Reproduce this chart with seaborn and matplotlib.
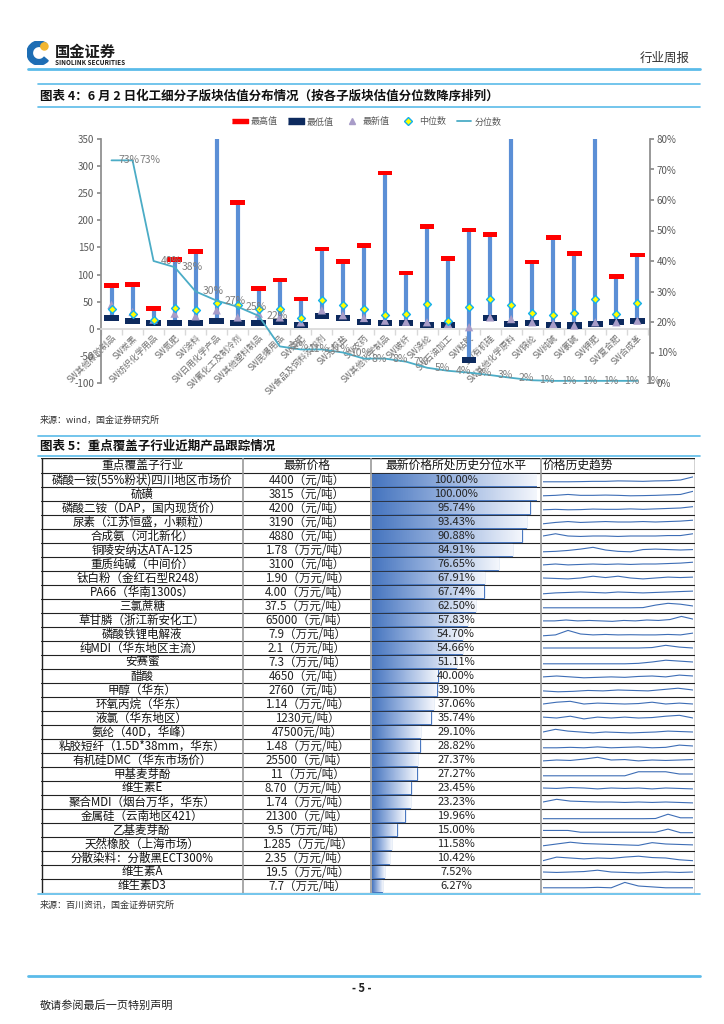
import numpy as np
import pandas as pd
import seaborn as sns
import matplotlib.pyplot as plt
from matplotlib.lines import Line2D
from matplotlib.markers import MarkerStyle
from matplotlib.patches import Wedge, Circle
from matplotlib.colors import LinearSegmentedColormap

# ---------------- data: figure 4 ----------------
sectors = ['SW其他橡胶制品', 'SW炭黑', 'SW纺织化学用品', 'SW氮肥', 'SW涂料', 'SW日用化学产品',
           'SW氟化工及制冷剂', 'SW其他塑料制品', 'SW民爆用品', 'SW磷肥', 'SW食品及饲料添加剂',
           'SW无机盐', 'SW农药', 'SW其他化学制品', 'SW玻纤', 'SW涤纶', 'SW石油加工', 'SW粘胶',
           'SW有机硅', 'SW其他化学原料', 'SW锦纶', 'SW纯碱', 'SW氯碱', 'SW钾肥', 'SW复合肥', 'SW合成革']
val_high = [80, 82, 37, 128, 143, 420, 233, 74, 90, 55, 147, 124, 153, 287, 103, 189,
            130, 182, 174, 460, 123, 168, 139, 440, 97, 136]
val_low = [20, 14, 10, 10, 10, 15, 11, 11, 12, 7, 23, 20, 13, 10, 11, 7,
           7, -58, 20, 9, 10, 7, 6, 9, 12, 14]
val_median = [37, 27, 17, 39, 34, 47, 44, 36, 37, 19, 53, 44, 36, 26, 28, 45,
              14, 40, 54, 43, 30, 26, 30, 54, 27, 47]
val_latest = [44, 31, 17, 28, 23, 34, 21, 28, 21, 12, 34, 25, 20, 15, 13, 12,
              9, 3, 21, 18, 12, 9, 6, 12, 12, 15]
pct_rank = [0.73, 0.73, 0.40, 0.38, 0.30, 0.27, 0.25, 0.22, 0.12, 0.11, 0.11, 0.10, 0.08,
            0.08, 0.07, 0.05, 0.04, 0.034, 0.026, 0.017, 0.009, 0.007, 0.007, 0.007, 0.007, 0.007]

# ---------------- data: figure 5 ----------------
products = ['磷酸一铵(55%粉状)四川地区市场价', '硫磺', '磷酸二铵（DAP，国内现货价）', '尿素（江苏恒盛，小颗粒）',
            '合成氨（河北新化）', '铜陵安纳达ATA-125', '重质纯碱（中间价）', '钛白粉（金红石型R248）',
            'PA66（华南1300s）', '三氯蔗糖', '草甘膦（浙江新安化工）', '磷酸铁锂电解液', '纯MDI（华东地区主流）',
            '安赛蜜', '醋酸', '甲醇（华东）', '环氧丙烷（华东）', '液氯（华东地区）', '氨纶（40D，华峰）',
            '粘胶短纤（1.5D*38mm，华东）', '有机硅DMC（华东市场价）', '甲基麦芽酚', '维生素E',
            '聚合MDI（烟台万华，华东）', '金属硅（云南地区421）', '乙基麦芽酚', '天然橡胶（上海市场）',
            '分散染料：分散黑ECT300%', '维生素A', '维生素D3']
prices = ['4400（元/吨）', '3815（元/吨）', '4200（元/吨）', '3190（元/吨）', '4880（元/吨）',
          '1.78（万元/吨）', '3100（元/吨）', '1.90（万元/吨）', '4.00（万元/吨）', '37.5（万元/吨）',
          '65000（元/吨）', '7.9（万元/吨）', '2.1（万元/吨）', '7.3（万元/吨）', '4650（元/吨）',
          '2760（元/吨）', '1.14（万元/吨）', '1230元/吨）', '47500元/吨）', '1.48（万元/吨）',
          '25500（元/吨）', '11（万元/吨）', '8.70（万元/吨）', '1.74（万元/吨）', '21300（元/吨）',
          '9.5（万元/吨）', '1.285（万元/吨）', '2.35（万元/吨）', '19.5（万元/吨）', '7.7（万元/吨）']
pct_hist = [100.00, 100.00, 95.74, 93.43, 90.88, 84.91, 76.65, 67.91, 67.74, 62.50, 57.83,
            54.70, 54.66, 51.11, 40.00, 39.10, 37.06, 35.74, 29.10, 28.82, 27.37, 27.27,
            23.45, 23.23, 19.96, 15.00, 11.58, 10.42, 7.52, 6.27]
# price-history sparklines, read roughly (0 = bottom of cell, 1 = top)
trend_series = [
    [0.3, 0.3, 0.3, 0.32, 0.35, 0.35, 0.4, 0.38, 0.35, 0.4, 0.42, 0.5, 0.85],
    [0.3, 0.35, 0.45, 0.35, 0.35, 0.38, 0.35, 0.3, 0.32, 0.35, 0.4, 0.45, 0.8],
    [0.3, 0.35, 0.3, 0.32, 0.38, 0.35, 0.35, 0.4, 0.35, 0.4, 0.45, 0.5, 0.65],
    [0.3, 0.45, 0.55, 0.45, 0.5, 0.55, 0.5, 0.5, 0.55, 0.5, 0.55, 0.6, 0.7],
    [0.5, 0.75, 0.5, 0.45, 0.5, 0.5, 0.45, 0.5, 0.5, 0.5, 0.55, 0.55, 0.75],
    [0.3, 0.35, 0.45, 0.6, 0.8, 0.5, 0.35, 0.3, 0.55, 0.6, 0.55, 0.5, 0.55],
    [0.4, 0.5, 0.4, 0.45, 0.5, 0.45, 0.5, 0.45, 0.5, 0.5, 0.55, 0.6, 0.7],
    [0.5, 0.45, 0.4, 0.5, 0.7, 0.55, 0.7, 0.5, 0.4, 0.5, 0.6, 0.55, 0.6],
    [0.3, 0.4, 0.45, 0.5, 0.45, 0.4, 0.5, 0.45, 0.4, 0.45, 0.5, 0.55, 0.6],
    [0.3, 0.3, 0.3, 0.3, 0.3, 0.3, 0.3, 0.3, 0.32, 0.6, 0.8, 0.7, 0.5],
    [0.4, 0.4, 0.5, 0.4, 0.45, 0.4, 0.35, 0.45, 0.4, 0.5, 0.45, 0.55, 0.9, 0.6],
    [0.3, 0.4, 0.9, 0.5, 0.4, 0.45, 0.4, 0.42, 0.4, 0.4, 0.45, 0.4, 0.6],
    [0.5, 0.5, 0.5, 0.5, 0.5, 0.5, 0.5, 0.5, 0.55, 0.8, 0.6, 0.5],
    [0.3, 0.3, 0.3, 0.3, 0.3, 0.3, 0.3, 0.35, 0.5, 0.7, 0.6, 0.5],
    [0.4, 0.5, 0.4, 0.3, 0.35, 0.4, 0.35, 0.45, 0.5, 0.4, 0.6, 0.5],
    [0.4, 0.3, 0.35, 0.45, 0.4, 0.5, 0.45, 0.4, 0.55, 0.7, 0.5],
    [0.5, 0.7, 0.8, 0.5, 0.6, 0.55, 0.5, 0.55, 0.7, 0.5, 0.6, 0.5],
    [0.6, 0.5, 0.7, 0.4, 0.6, 0.5, 0.6, 0.5, 0.55, 0.7, 0.8, 0.5],
    [0.5, 0.8, 0.6, 0.5, 0.4, 0.5, 0.45, 0.4, 0.45, 0.5, 0.6, 0.55, 0.5],
    [0.3, 0.3, 0.35, 0.3, 0.4, 0.3, 0.35, 0.4, 0.3, 0.35, 0.6, 0.5],
    [0.4, 0.5, 0.45, 0.6, 0.8, 0.5, 0.55, 0.4, 0.5, 0.45, 0.5, 0.55],
    [0.3, 0.3, 0.3, 0.3, 0.3, 0.3, 0.3, 0.75, 0.75, 0.75, 0.5, 0.5],
    [0.5, 0.45, 0.55, 0.5, 0.4, 0.5, 0.45, 0.5, 0.4, 0.5, 0.45, 0.4],
    [0.5, 0.8, 0.6, 0.55, 0.5, 0.5, 0.45, 0.5, 0.45, 0.5, 0.45, 0.4],
    [0.2, 0.2, 0.2, 0.2, 0.2, 0.2, 0.2, 0.2, 0.2, 0.22, 0.7, 0.3, 0.3],
    [0.45, 0.45, 0.45, 0.25, 0.25, 0.25, 0.25, 0.25, 0.25, 0.25, 0.6, 0.2, 0.2],
    [0.3, 0.5, 0.7, 0.55, 0.5, 0.45, 0.4, 0.35, 0.65, 0.5, 0.45, 0.4],
    [0.2, 0.6, 0.5, 0.4, 0.5, 0.45, 0.6, 0.7, 0.55, 0.5, 0.3, 0.2],
    [0.5, 0.45, 0.5, 0.55, 0.7, 0.5, 0.45, 0.4, 0.45, 0.5, 0.45, 0.5],
    [0.3, 0.3, 0.3, 0.3, 0.35, 0.3, 0.9, 0.5, 0.4, 0.3, 0.3, 0.3],
]

sns.set_theme(style='white')
plt.rcParams['font.family'] = ['Noto Sans CJK SC', 'DejaVu Sans']
plt.rcParams['axes.unicode_minus'] = False

W, H = 724, 1024
fig = plt.figure(figsize=(W / 100, H / 100), dpi=100)
fig.patch.set_facecolor('white')
BLUE_LINE = '#5bbbe9'
GREY = '#595959'


def px_box(x0, y0, x1, y1):
    return [x0 / W, 1 - y1 / H, (x1 - x0) / W, (y1 - y0) / H]


def hline(y, x0=28, x1=700, color=BLUE_LINE, lw=1.5):
    fig.add_artist(Line2D([x0 / W, x1 / W], [1 - y / H, 1 - y / H],
                          transform=fig.transFigure, color=color, lw=lw))


def ftext(x, y, s, **kw):
    fig.text(x / W, 1 - y / H, s, **kw)


# ---------------- page header ----------------
logo = fig.add_axes(px_box(27, 41, 51, 65))
logo.set_xlim(-1, 1)
logo.set_ylim(-1, 1)
logo.set_aspect('equal')
logo.axis('off')
logo.add_patch(Wedge((0, 0), 1.0, 50, 320, width=0.45, color='#1d6db4'))
logo.add_patch(Circle((0.45, 0.55), 0.3, color='#f2b632'))
ftext(55, 52, '国金证券', fontsize=11, fontweight='bold', color='#1a1a1a', va='center')
ftext(55, 62.5, 'SINOLINK SECURITIES', fontsize=4.6, fontweight='bold', color='#1a1a1a', va='center')
ftext(690, 58, '行业周报', fontsize=9, color='#333333', ha='right', va='center')
hline(69, lw=2)

# ---------------- figure 4 ----------------
hline(84, 38, 700, lw=1.2)
hline(107, 38, 700, lw=1.2)
ftext(40, 96, '图表 4：6 月 2 日化工细分子版块估值分布情况（按各子版块估值分位数降序排列）',
      fontsize=9, fontweight='bold', fontstyle='italic', color='#111111', va='center')

ax = fig.add_axes(px_box(101, 139, 650, 383))
x = np.arange(len(sectors))
ax.vlines(x, val_low, val_high, color='#5b8fd6', lw=3.0, zorder=2)
cap_hi = MarkerStyle([(-1, -0.32), (1, -0.32), (1, 0.32), (-1, 0.32)])
cap_lo = MarkerStyle([(-1, -0.42), (1, -0.42), (1, 0.42), (-1, 0.42)])
sns.scatterplot(x=x, y=val_high, marker=cap_hi, s=110, color='#ff0000', edgecolor='none', ax=ax, zorder=4)
sns.scatterplot(x=x, y=val_low, marker=cap_lo, s=110, color='#0d2a5e', edgecolor='none', ax=ax, zorder=4)
sns.scatterplot(x=x, y=val_latest, marker='^', s=36, color='#a89cc8', edgecolor='none', ax=ax, zorder=5)
sns.scatterplot(x=x, y=val_median, marker='D', s=16, color='#ffff00', edgecolor='#12b0ee', linewidth=1.0,
                ax=ax, zorder=6)
ax.set_xlim(-0.5, 25.6)
ax.set_ylim(-100, 350)
ax.set_yticks(range(-100, 351, 50))
ax.spines['top'].set_visible(False)
ax.spines['right'].set_visible(False)
ax.spines['left'].set_color('#8c8c8c')
ax.spines['bottom'].set_position(('data', 0))
ax.spines['bottom'].set_color('#d9d9d9')
ax.set_xticks(x)
ax.set_xticklabels(sectors, rotation=45, ha='right', va='top', rotation_mode='anchor',
                   fontsize=6.2, color='#6e6e6e')
ax.set_xticks(np.arange(-0.5, 26, 1), minor=True)
ax.tick_params(axis='x', which='major', length=0, pad=3)
ax.tick_params(axis='x', which='minor', length=4, color='#d9d9d9', direction='out', bottom=True)
ax.tick_params(axis='y', length=3, color='#8c8c8c', left=True, labelsize=7, labelcolor=GREY, pad=2)
ax.set_xlabel('')
ax.set_ylabel('')

ax2 = ax.twinx()
sns.lineplot(x=x, y=pct_rank, color='#4bacc6', lw=1.3, ax=ax2, zorder=3)
for xi, p in zip(x, pct_rank):
    ax2.text(xi + 0.35, p, f'{p:.0%}', fontsize=7.5, color='#7f7f7f', ha='left', va='center')
ax2.set_ylim(0, 0.8)
ax2.set_yticks(np.arange(0, 0.81, 0.1))
ax2.set_yticklabels([f'{v:.0%}' for v in np.arange(0, 0.81, 0.1)])
for s in ['top', 'left', 'bottom']:
    ax2.spines[s].set_visible(False)
ax2.spines['right'].set_color('#8c8c8c')
ax2.tick_params(axis='y', length=3, color='#8c8c8c', right=True, labelsize=7, labelcolor=GREY, pad=2)
ax2.set_ylabel('')

handles = [Line2D([], [], marker=cap_hi, ms=11, color='#ff0000', ls='none'),
           Line2D([], [], marker=cap_lo, ms=11, color='#0d2a5e', ls='none'),
           Line2D([], [], marker='^', ms=5, color='#a89cc8', ls='none'),
           Line2D([], [], marker='D', ms=4, mfc='#ffff00', mec='#12b0ee', ls='none'),
           Line2D([], [], color='#4bacc6', lw=1.3)]
leg = ax.legend(handles, ['最高值', '最低值', '最新值', '中位数', '分位数'], ncol=5, frameon=False,
                loc='center', bbox_to_anchor=(0.485, 1.07), fontsize=6.5, handlelength=1.6,
                columnspacing=1.2, handletextpad=0.4)
for t in leg.get_texts():
    t.set_color(GREY)

ftext(40, 420, '来源：wind，国金证券研究所', fontsize=6.5, color='#333333', va='center')

# ---------------- figure 5 ----------------
hline(436, 38, 700, lw=1.2)
hline(456, 38, 700, lw=1.2)
ftext(40, 446, '图表 5：重点覆盖子行业近期产品跟踪情况', fontsize=9, fontweight='bold',
      fontstyle='italic', color='#111111', va='center')

n = len(products)
head_h = 15 / 14.0
ax_t = fig.add_axes(px_box(41, 458, 695, 893))
ax_t.set_xlim(41, 695)
ax_t.set_ylim(n, -head_h)
ax_t.axis('off')
for yb in np.arange(0, n + 1):
    ax_t.axhline(yb, color='#222222', lw=0.8)
ax_t.axhline(-head_h, color='#222222', lw=1.0)
for xb in [243, 371, 541]:
    ax_t.axvline(xb, color='#9a9a9a', lw=1.2)
ax_t.axvline(41.5, color='#222222', lw=1.0)
ax_t.axvline(694.5, color='#222222', lw=1.0)
hy = -head_h / 2
ax_t.text(142, hy, '重点覆盖子行业', fontsize=8.5, ha='center', va='center', color='#111111')
ax_t.text(307, hy, '最新价格', fontsize=8.5, ha='center', va='center', color='#111111')
ax_t.text(456, hy, '最新价格所处历史分位水平', fontsize=8.5, ha='center', va='center', color='#111111')
ax_t.text(543, hy, '价格历史趋势', fontsize=8.5, ha='left', va='center', color='#111111')
for i, (name, price) in enumerate(zip(products, prices)):
    ax_t.text(142, i + 0.5, name, fontsize=8.3, ha='center', va='center', color='#111111')
    ax_t.text(307, i + 0.5, price, fontsize=8.3, ha='center', va='center', color='#222222')

# percentile bars with gradient fill
ax_b = fig.add_axes(px_box(372, 473, 537, 893))
ax_b.patch.set_alpha(0)
sns.barplot(x=pct_hist, y=[str(i) for i in range(n)], orient='h', ax=ax_b, facecolor='none',
            edgecolor='#4a78c0', linewidth=0.9, width=0.8)
grad_cmap = LinearSegmentedColormap.from_list('g', ['#4675bf', '#9db6e0', '#f3f6fc'])
grad = np.linspace(0, 1, 64).reshape(1, -1)
for p in ax_b.patches:
    bx, by = p.get_x(), p.get_y()
    bw, bh = p.get_width(), p.get_height()
    im = ax_b.imshow(grad, cmap=grad_cmap, extent=[bx, bx + bw, by + bh, by], aspect='auto', zorder=1)
    im.set_clip_path(p)
for i, v in enumerate(pct_hist):
    ax_b.text(51, i, f'{v:.2f}%', fontsize=8, ha='center', va='center', color='#222222', zorder=5)
ax_b.set_xlim(0, 100)
ax_b.set_ylim(n - 0.5, -0.5)
ax_b.axis('off')

# sparklines
rows = []
for i, seq in enumerate(trend_series):
    m = len(seq)
    for j, v in enumerate(seq):
        rows.append({'row': i, 't': j / (m - 1), 'y': i + 0.32 - 0.64 * v})
df_trend = pd.DataFrame(rows)
ax_s = fig.add_axes(px_box(543, 473, 693, 893))
ax_s.patch.set_alpha(0)
sns.lineplot(data=df_trend, x='t', y='y', units='row', estimator=None, sort=False,
             color='#3d6db5', lw=0.8, ax=ax_s)
ax_s.set_xlim(0, 1)
ax_s.set_ylim(n - 0.5, -0.5)
ax_s.axis('off')

hline(894, 38, 700, lw=1.2)
ftext(40, 905, '来源：百川资讯，国金证券研究所', fontsize=6.5, color='#333333', va='center')

# ---------------- footer ----------------
hline(976, lw=2)
ftext(362, 988, '- 5 -', fontsize=8, fontweight='bold', ha='center', va='center', color='#222222')
ftext(40, 1006, '敬请参阅最后一页特别声明', fontsize=8, color='#222222', va='center')

fig.savefig('out.png', dpi=100)
